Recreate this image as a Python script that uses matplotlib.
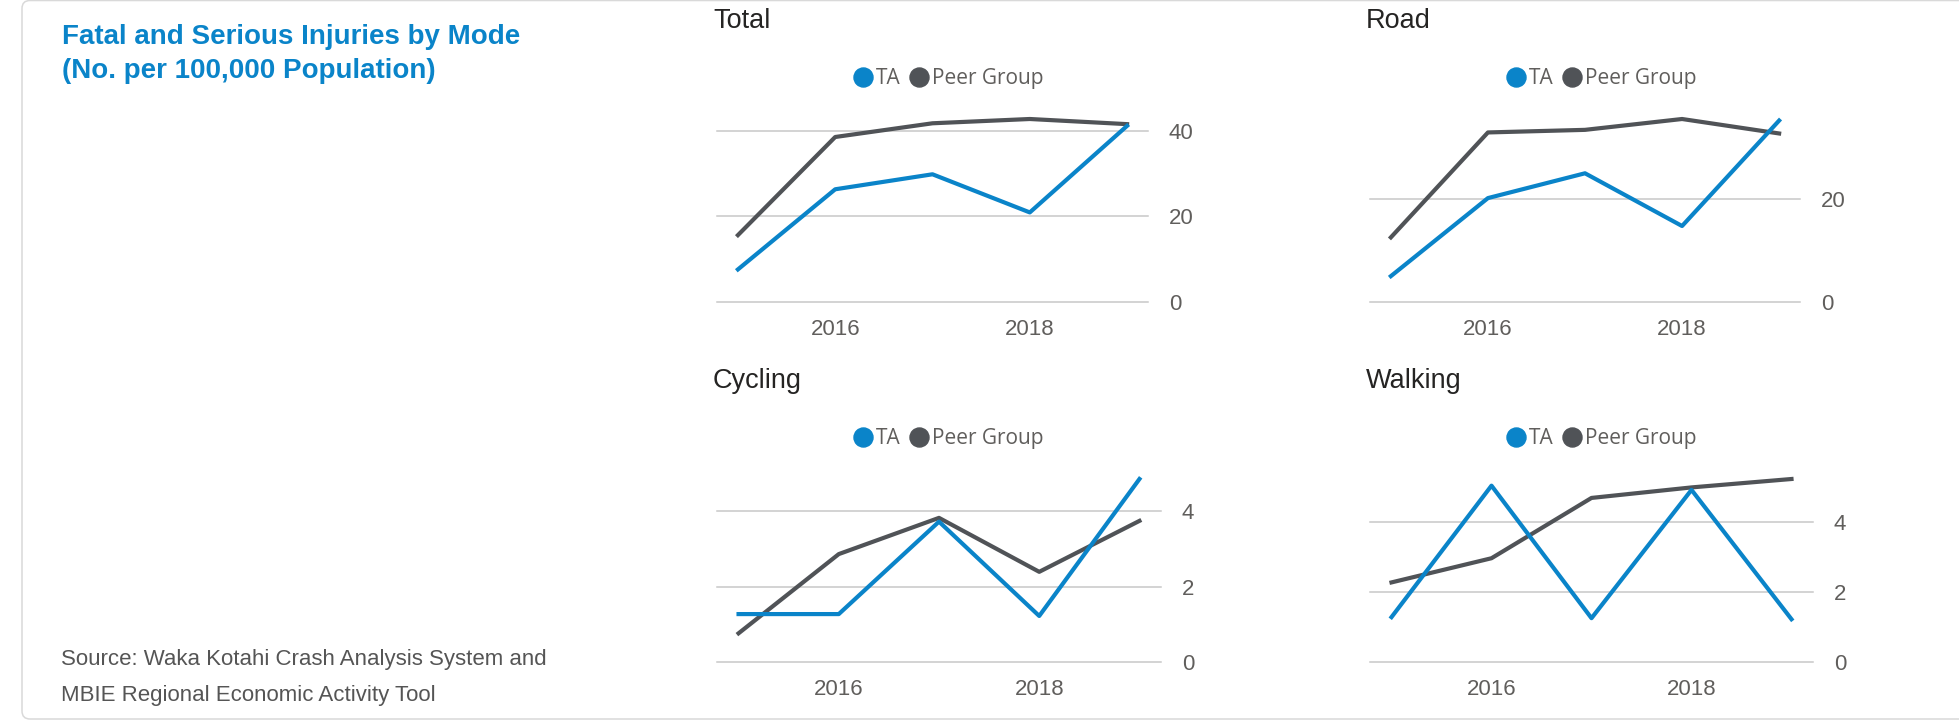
import matplotlib
matplotlib.use("Agg")
import matplotlib.pyplot as plt
from matplotlib.lines import Line2D
from matplotlib.patches import FancyBboxPatch
from matplotlib.transforms import IdentityTransform

plt.rcParams["font.family"] = ["Liberation Sans", "DejaVu Sans"]

years = [2015, 2016, 2017, 2018, 2019]
year_ticks = [2016, 2018]

total_ta = [7.6, 26.3, 29.8, 20.9, 41.1]
total_peer = [15.6, 38.5, 41.7, 42.7, 41.5]
road_ta = [5.0, 20.1, 24.9, 14.7, 35.1]
road_peer = [12.5, 32.8, 33.3, 35.4, 32.6]
cycling_ta = [1.27, 1.27, 3.72, 1.22, 4.85]
cycling_peer = [0.76, 2.86, 3.82, 2.39, 3.74]
walking_ta = [1.28, 5.03, 1.25, 4.91, 1.22]
walking_peer = [2.27, 2.96, 4.68, 4.98, 5.22]

total_ticks = [0, 20, 40]
road_ticks = [0, 20]
cycling_ticks = [0, 2, 4]
walking_ticks = [0, 2, 4]

series_names = ["TA", "Peer Group"]
ta_color = "#0A84C9"
peer_color = "#505357"

W, H = 1959, 722
fig = plt.figure(figsize=(W / 100, H / 100), dpi=100)
fig.patch.set_facecolor("white")

# card outline (pixel coordinates)
card = FancyBboxPatch((22, 3), 1990, 718.5, boxstyle="round,pad=0,rounding_size=8",
                      transform=IdentityTransform(), facecolor="none",
                      edgecolor="#D9D9D9", linewidth=1.1)
fig.patches.append(card)

fig.text(62 / W, 1 - 36.5 / H, "Fatal and Serious Injuries by Mode", fontsize=20,
         fontweight="bold", color="#0A84C9", va="center")
fig.text(62 / W, 1 - 71.5 / H, "(No. per 100,000 Population)", fontsize=20,
         fontweight="bold", color="#0A84C9", va="center")
fig.text(61 / W, 1 - 660 / H, "Source: Waka Kotahi Crash Analysis System and",
         fontsize=16, color="#555555", va="center")
fig.text(61 / W, 1 - 695 / H, "MBIE Regional Economic Activity Tool",
         fontsize=16, color="#555555", va="center")

panels = [
    ("Total", total_ta, total_peer, total_ticks, (717, 119, 1148, 302), 949),
    ("Road", road_ta, road_peer, road_ticks, (1370, 119, 1800, 302), 1602),
    ("Cycling", cycling_ta, cycling_peer, cycling_ticks, (717, 479, 1161, 662), 949),
    ("Walking", walking_ta, walking_peer, walking_ticks, (1370, 479, 1813, 662), 1602),
]

for title, ta, peer, ticks, (l, t, r, b), leg_x in panels:
    ax = fig.add_axes([l / W, 1 - b / H, (r - l) / W, (b - t) / H])
    ax.plot(years, peer, color=peer_color, lw=3.0, clip_on=False)
    ax.plot(years, ta, color=ta_color, lw=3.0, clip_on=False)
    ax.set_xlim(2014.785, 2019.215)
    ax.set_ylim(0, max(max(ta), max(peer)))
    ax.set_xticks(year_ticks)
    ax.set_yticks(ticks)
    ax.yaxis.tick_right()
    ax.tick_params(axis="y", length=0, pad=15, labelsize=16, labelcolor="#605E5C")
    ax.tick_params(axis="x", length=0, pad=12.5, labelsize=16, labelcolor="#605E5C")
    ax.grid(axis="y", color="#C8C8C8", lw=1.1)
    ax.set_axisbelow(True)
    for gl in ax.get_ygridlines():
        gl.set_clip_on(False)
    for s in ax.spines.values():
        s.set_visible(False)

    fig.text((l - 4) / W, 1 - (t - 98.5) / H, title, fontsize=19.5, color="#252423", va="center")

    handles = [Line2D([], [], ls="none", marker="o", markersize=13.7, color=c)
               for c in (ta_color, peer_color)]
    ax.legend(handles, series_names, loc="center", bbox_to_anchor=(leg_x / W, 1 - (t - 40.5) / H),
              bbox_transform=fig.transFigure, ncol=2, frameon=False, handlelength=0.85,
              handletextpad=0.2, columnspacing=0.45, borderpad=0,
              prop={"family": "Open Sans", "size": 15}, labelcolor="#605E5C")

fig.savefig("out.png", dpi=100)
